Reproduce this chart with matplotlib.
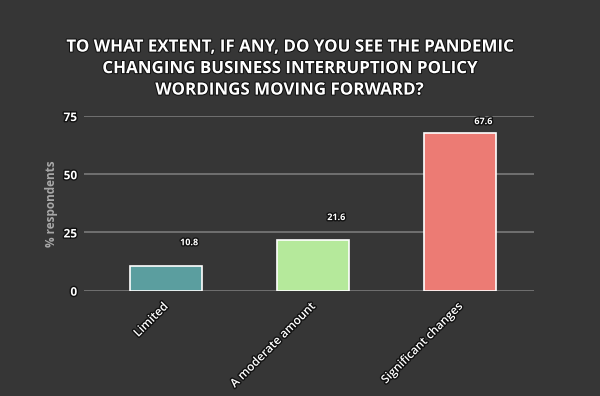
import matplotlib
matplotlib.use("Agg")
import matplotlib.pyplot as plt
import matplotlib.patheffects as pe

categories = ["Limited", "A moderate amount", "Significant changes"]
values = [10.8, 21.6, 67.6]
colors = ["#5b9e9f", "#b5e99b", "#ec7b74"]
yticks = [0, 25, 50, 75]
title = "TO WHAT EXTENT, IF ANY, DO YOU SEE THE PANDEMIC\nCHANGING BUSINESS INTERRUPTION POLICY\nWORDINGS MOVING FORWARD?"

bg = "#363636"
plt.rcParams['font.family'] = ['Open Sans', 'DejaVu Sans']

fig = plt.figure(figsize=(6, 3.96), dpi=100, facecolor=bg)
ax = fig.add_axes([0.14, 0.266, 0.75, 0.441], facecolor=bg)

x = list(range(len(categories)))
ax.bar(x, values, width=0.49, color=colors, edgecolor="white", linewidth=1.2, zorder=3)

stroke = [pe.withStroke(linewidth=2, foreground="#111111")]
for xi, v in zip(x, values):
    ax.annotate(f"{v}", xy=(xi, min(v + 9.8, 72.6)), xytext=(23, 0), textcoords="offset pixels",
                ha="center", va="center", fontsize=6.5, fontweight="bold", color="white",
                path_effects=stroke, zorder=5)

ax.set_xlim(-0.558, 2.5)
ax.set_ylim(0, 75)
ax.set_yticks(yticks)
ax.yaxis.grid(True, color="#7a7a7a", linewidth=1.2, zorder=0)
ax.set_axisbelow(True)
for s in ax.spines.values():
    s.set_visible(False)
ax.tick_params(axis="both", length=0)
ax.tick_params(axis="y", pad=5, labelsize=8.5, labelcolor="white")
for lab in ax.get_yticklabels():
    lab.set_fontweight("bold")
    lab.set_path_effects(stroke)

ax.set_xticks(x)
ax.set_xticklabels(categories, rotation=45, ha="right", va="center", rotation_mode="anchor",
                   fontsize=8.5, color="white", fontweight="semibold", path_effects=stroke)
ax.tick_params(axis="x", pad=10)

ax.set_ylabel("% respondents", fontsize=8.5, color="#a8a8a8", fontweight="bold", labelpad=4)

fig.text(0.482, 0.828, title, ha="center", va="center", fontsize=12.2, color="white",
         fontweight="bold", linespacing=1.25, path_effects=[pe.withStroke(linewidth=1.5, foreground="#111111")])

fig.savefig("out.png", dpi=100, facecolor=bg)
